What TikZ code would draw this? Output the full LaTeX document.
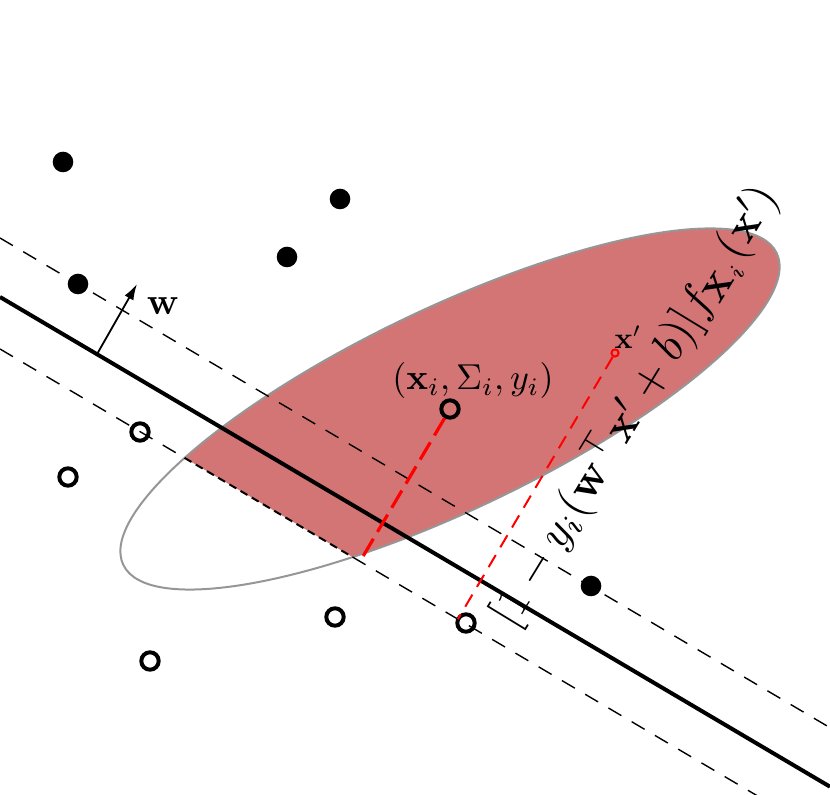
\documentclass[tikz,border=0pt]{standalone}
\usetikzlibrary{calc,intersections,arrows.meta}
\definecolor{ellfill}{RGB}{212,117,117}
\definecolor{ellline}{RGB}{150,150,150}
\tikzset{
  marginline/.style={line width=0.7pt, dash pattern=on 7.5pt off 6pt},
  densemargin/.style={line width=1pt, dash pattern=on 4pt off 2.5pt},
  sepline/.style={line width=2pt},
  posdot/.style={circle, fill=black, inner sep=0pt, minimum size=10.3pt},
  negdot/.style={circle, draw=black, line width=2pt, inner sep=0pt, minimum size=8.7pt},
  xpdot/.style={circle, draw=red, line width=1pt, inner sep=0pt, minimum size=3.6pt},
  projthick/.style={red, line width=1.6pt, dash pattern=on 10pt off 4pt},
  projthin/.style={red, line width=1pt, dash pattern=on 7pt off 4.5pt},
  ellipseline/.style={draw=ellline, line width=1pt},
  lab/.style={inner sep=0pt},
}
\begin{document}
\begin{tikzpicture}[x=0.5pt,y=-0.5pt]
\useasboundingbox (0,0) rectangle (830,795);
\clip (0,0) rectangle (830,795);

% margin and separator lines (slope 0.59)
\coordinate (U1) at (0,238);   \coordinate (U2) at (830,727.7);
\coordinate (S1) at (0,297);   \coordinate (S2) at (830,786.7);
\coordinate (L1) at (0,349);   \coordinate (L2) at (830,838.7);

% pink part of the ellipse (above the lower margin)
\begin{scope}
  \clip (L1) -- (L2) -- (830,0) -- (0,0) -- cycle;
  \fill[ellfill, rotate around={25.5:(450,409)}] (450,409) ellipse [x radius=181pt, y radius=50.5pt];
\end{scope}
\path[ellipseline, name path=ell, rotate around={25.5:(450,409)}] (450,409) ellipse [x radius=181pt, y radius=50.5pt];

\path[name path=low] (L1) -- (L2);
\path[name intersections={of=low and ell, sort by=low, by={I1,I2}}];

\draw[marginline] (U1) -- (U2);
\draw[marginline] (L1) -- (I1);
\draw[densemargin] (I1) -- (I2);
\draw[marginline] (I2) -- (L2);
\draw[sepline] (S1) -- (S2);

% normal vector w
\coordinate (wbase) at (97,354.2);
\coordinate (wtip) at (137,284);
\draw[line width=0.9pt, -{Latex[length=8pt,width=5pt]}] (wbase) -- (wtip);

% points
\node[posdot] (p1) at (63,162) {};
\node[posdot] (p2) at (340,199) {};
\node[posdot] (p3) at (287,257) {};
\node[posdot] (p4) at (78,284) {};
\node[posdot] (p5) at (591,586) {};

\node[negdot] (n1) at (140,432) {};
\node[negdot] (n2) at (68,477) {};
\node[negdot] (n3) at (335,617) {};
\node[negdot] (n4) at (150,661) {};
\node[negdot] (n5) at (466,623) {};
\node[negdot] (xi) at (450,409) {};

\node[xpdot] (xp) at (615,353) {};

% projections
\draw[projthick] (xi) -- ($(L1)!(xi)!(L2)$);
\draw[projthin] (xp) -- ($(L1)!(xp)!(L2)$);

% labels
\node[lab] (lxi) at (473,381) {\scalebox{1.8}{$(\mathbf{x}_i,\Sigma_i,y_i)$}};
\node[lab] (lxp) at (628,337) {\scalebox{1.5}{$\mathbf{x}'$}};
\node[lab] (lw) at (163,306) {\scalebox{1.9}{$\mathbf{w}$}};
\node[lab, rotate=58.6, anchor=west] (lf) at (502,623)
  {\scalebox{2.28}{$[1-y_i(\mathbf{w}^\top\mathbf{x}'+b)]f_{\mathbf{X}_i}(\mathbf{x}')$}};
\end{tikzpicture}
\end{document}
